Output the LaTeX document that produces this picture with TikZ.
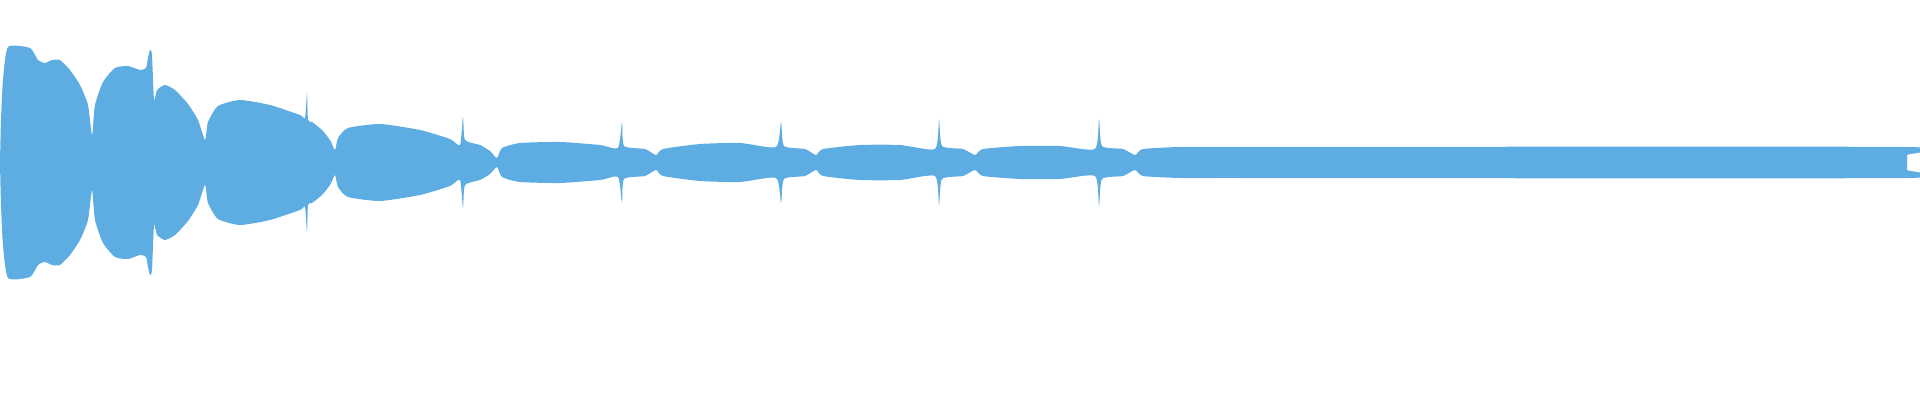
\documentclass[tikz,border=0pt]{standalone}
\definecolor{wave}{RGB}{93,173,226}
\begin{document}
\begin{tikzpicture}[x=0.5pt,y=-0.5pt]
\useasboundingbox (0,0) rectangle (1920,400);
\def\upperhalf{plot[smooth,tension=0.35] coordinates {(0,162.5)(1,120)(3,80)(8,47)(30,48)(38,60)(45,63)(52,60)(60,60)(70,70)(80,85)(88,105)(92,135)(95,105)(103,82)(115,68)(128,66)(140,70)(146,68)(148,58)(150,50)(152,55)(154,100)(157,90)(165,85)(175,90)(188,104)(198,120)(205,140)(208,122)(218,106)(240,100)(270,105)(300,115)(305,118)(307,93)(308,120)(312,122)(322,130)(330,140)(335,150)(338,138)(348,128)(380,124)(420,130)(450,139)(460,145)(463,117)(465,140)(480,145)(490,151)(497,158)(502,148)(520,143)(560,142)(600,145)(618,148)(622,122)(624,146)(645,149)(656,155)(663,149)(700,144)(740,143)(776,147)(781,122)(784,146)(805,149)(816,155)(823,149)(860,145)(900,145)(935,149)(939,120)(942,146)(963,149)(975,155)(983,149)(1020,146)(1060,146)(1095,149)(1099,119)(1102,146)(1123,149)(1135,155)(1143,149)(1180,147)(1230,147)(1904,147)(1907,155)(1907,162.5)} -- (1907,165) -- (0,165)}
\fill[wave] \upperhalf -- cycle;
\begin{scope}[shift={(0,325)},yscale=-1]
\fill[wave] \upperhalf -- cycle;
\end{scope}
\end{tikzpicture}
\end{document}
